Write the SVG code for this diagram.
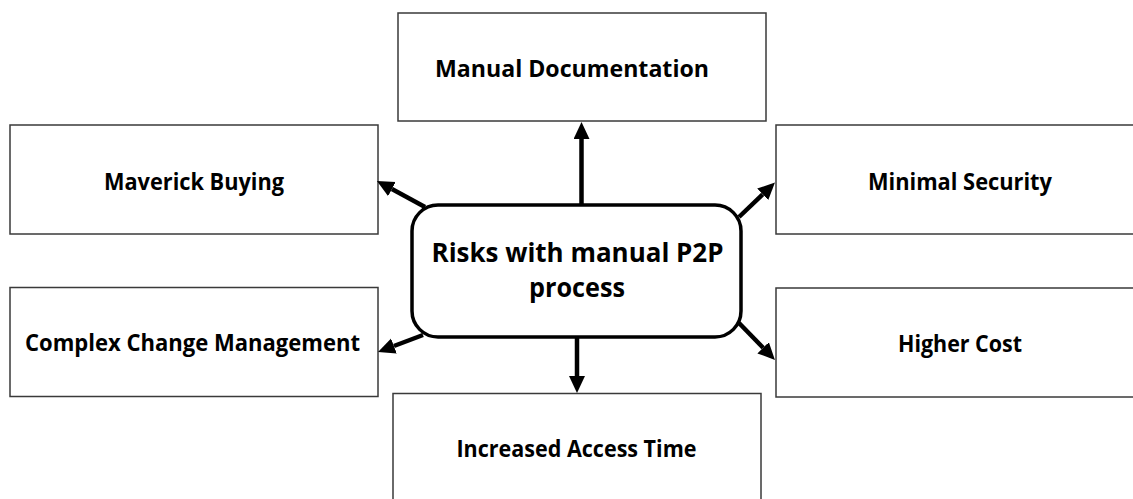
<svg xmlns="http://www.w3.org/2000/svg" width="1133" height="499" viewBox="0 0 1133 499">
  <style>
    .box { fill: #ffffff; stroke: #3a3a3a; stroke-width: 1.5; }
    .hub { fill: #ffffff; stroke: #000000; stroke-width: 3.5; }
    .label { font-family: "Open Sans", "Liberation Sans", sans-serif; font-weight: bold; font-size: 24px; fill: #000000; text-anchor: middle; }
    .hub-label { font-family: "Open Sans", "Liberation Sans", sans-serif; font-weight: bold; font-size: 27px; fill: #000000; text-anchor: middle; }
    .link { stroke: #000000; stroke-width: 4.5; fill: none; marker-end: url(#head); }
  </style>
  <defs>
    <marker id="head" markerUnits="userSpaceOnUse" markerWidth="18" markerHeight="17" refX="0" refY="8" orient="auto">
      <path d="M0,0 L17,8 L0,16 Z" fill="#000000"/>
    </marker>
  </defs>
  <rect width="1133" height="499" fill="#ffffff"/>

  <g id="node-manual-documentation">
    <rect class="box" x="398" y="13" width="368" height="108"/>
    <text class="label" x="572" y="77" textLength="274" lengthAdjust="spacingAndGlyphs">Manual Documentation</text>
  </g>
  <g id="node-maverick-buying">
    <rect class="box" x="10" y="125" width="368" height="109"/>
    <text class="label" x="194" y="190" textLength="180" lengthAdjust="spacingAndGlyphs">Maverick Buying</text>
  </g>
  <g id="node-minimal-security">
    <rect class="box" x="776" y="125" width="368" height="109"/>
    <text class="label" x="960" y="190" textLength="184" lengthAdjust="spacingAndGlyphs">Minimal Security</text>
  </g>
  <g id="node-complex-change">
    <rect class="box" x="10" y="287.5" width="368" height="109"/>
    <text class="label" x="192.5" y="351" textLength="335" lengthAdjust="spacingAndGlyphs">Complex Change Management</text>
  </g>
  <g id="node-higher-cost">
    <rect class="box" x="776" y="288" width="368" height="109"/>
    <text class="label" x="960" y="352" textLength="124" lengthAdjust="spacingAndGlyphs">Higher Cost</text>
  </g>
  <g id="node-increased-access-time">
    <rect class="box" x="393" y="393.5" width="368" height="120"/>
    <text class="label" x="576.5" y="457" textLength="240" lengthAdjust="spacingAndGlyphs">Increased Access Time</text>
  </g>

  <g id="connectors">
    <line class="link" x1="581.5" y1="204" x2="581.5" y2="139"/>
    <line class="link" x1="577" y1="338" x2="577" y2="376"/>
    <line class="link" x1="425" y1="207" x2="391.9" y2="189.1"/>
    <line class="link" x1="423" y1="335" x2="393.9" y2="346"/>
    <line class="link" x1="739" y1="217" x2="762.7" y2="194.3"/>
    <line class="link" x1="739" y1="323" x2="763.1" y2="347.8"/>
  </g>

  <g id="node-risks-hub">
    <rect class="hub" x="412" y="205" width="329" height="132" rx="26" ry="26"/>
    <text class="hub-label" x="577.5" y="262" textLength="292" lengthAdjust="spacingAndGlyphs">Risks with manual P2P</text>
    <text class="hub-label" x="577" y="297" textLength="96" lengthAdjust="spacingAndGlyphs">process</text>
  </g>
</svg>
